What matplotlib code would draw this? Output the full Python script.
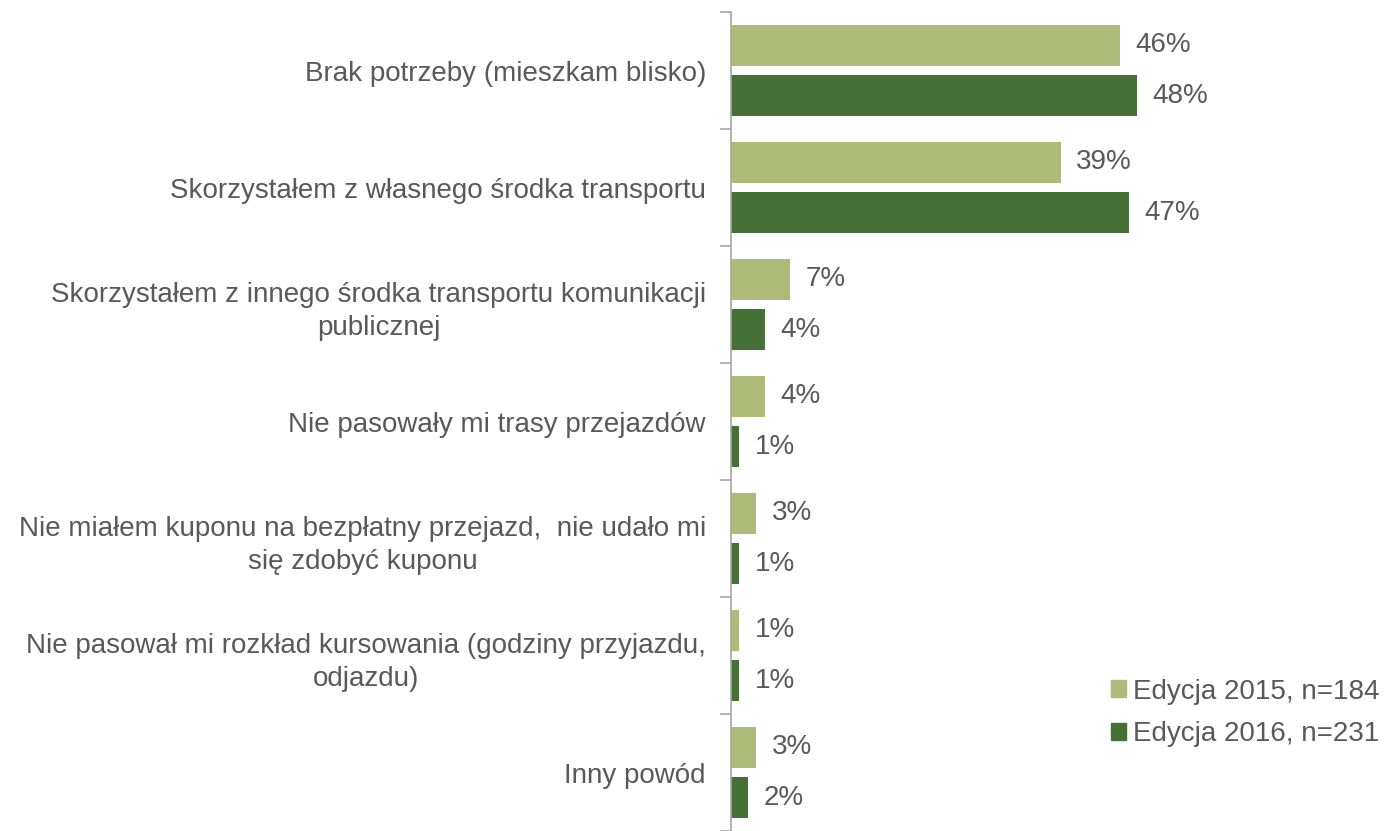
import numpy as np
import matplotlib.pyplot as plt
from matplotlib.patches import Patch

# powody niekorzystania z przejazdu, edycje 2015 i 2016
categories = [
    "Brak potrzeby (mieszkam blisko)",
    "Skorzystałem z własnego środka transportu",
    "Skorzystałem z innego środka transportu komunikacji\npublicznej",
    "Nie pasowały mi trasy przejazdów",
    "Nie miałem kuponu na bezpłatny przejazd,  nie udało mi\nsię zdobyć kuponu",
    "Nie pasował mi rozkład kursowania (godziny przyjazdu,\nodjazdu)",
    "Inny powód",
]
vals_2015 = [46, 39, 7, 4, 3, 1, 3]
vals_2016 = [48, 47, 4, 1, 1, 1, 2]
series_names = ["Edycja 2015, n=184", "Edycja 2016, n=231"]

LIGHT = "#AEBA78"
DARK = "#467136"
TEXT = "#595959"
FS = 20

plt.rcParams['font.family'] = ['Liberation Sans', 'DejaVu Sans']

fig = plt.figure(figsize=(13.84, 8.31), dpi=100)
ax = fig.add_axes([731 / 1384, 0, 1 - 731 / 1384, 1 - 12 / 831])

y = np.arange(len(categories))
h = 0.35
off = 0.216
ax.barh(y - off, vals_2015, height=h, color=LIGHT)
ax.barh(y + off, vals_2016, height=h, color=DARK)

for yi, v in zip(y - off, vals_2015):
    ax.annotate(f"{v}%", (v, yi), xytext=(11, 0), textcoords="offset points",
                va="center", ha="left", fontsize=FS, color=TEXT)
for yi, v in zip(y + off, vals_2016):
    ax.annotate(f"{v}%", (v, yi), xytext=(11, 0), textcoords="offset points",
                va="center", ha="left", fontsize=FS, color=TEXT)

ax.set_xlim(0, 653 / 8.46)
ax.set_ylim(len(categories) - 0.5, -0.5)

ax.set_yticks(y)
ax.set_yticklabels(categories, fontsize=FS, color=TEXT, ha="right",
                   multialignment="center", linespacing=1.35)
ax.tick_params(axis="y", which="major", length=0, pad=18)
ax.set_yticks(np.arange(len(categories) + 1) - 0.5, minor=True)
ax.tick_params(axis="y", which="minor", length=8, color="#A6A6A6", width=1.2)
ax.set_xticks([])

for s in ["top", "right", "bottom"]:
    ax.spines[s].set_visible(False)
ax.spines["left"].set_color("#A6A6A6")
ax.spines["left"].set_linewidth(1.2)

handles = [Patch(color=LIGHT), Patch(color=DARK)]
fig.legend(handles, series_names, loc="lower right", bbox_to_anchor=(1.007, 0.084),
           frameon=False, fontsize=FS, labelcolor=TEXT, handlelength=0.55,
           handleheight=0.55, handletextpad=0.25, labelspacing=0.6,
           borderaxespad=0.1)

fig.savefig("out.png", dpi=100)
